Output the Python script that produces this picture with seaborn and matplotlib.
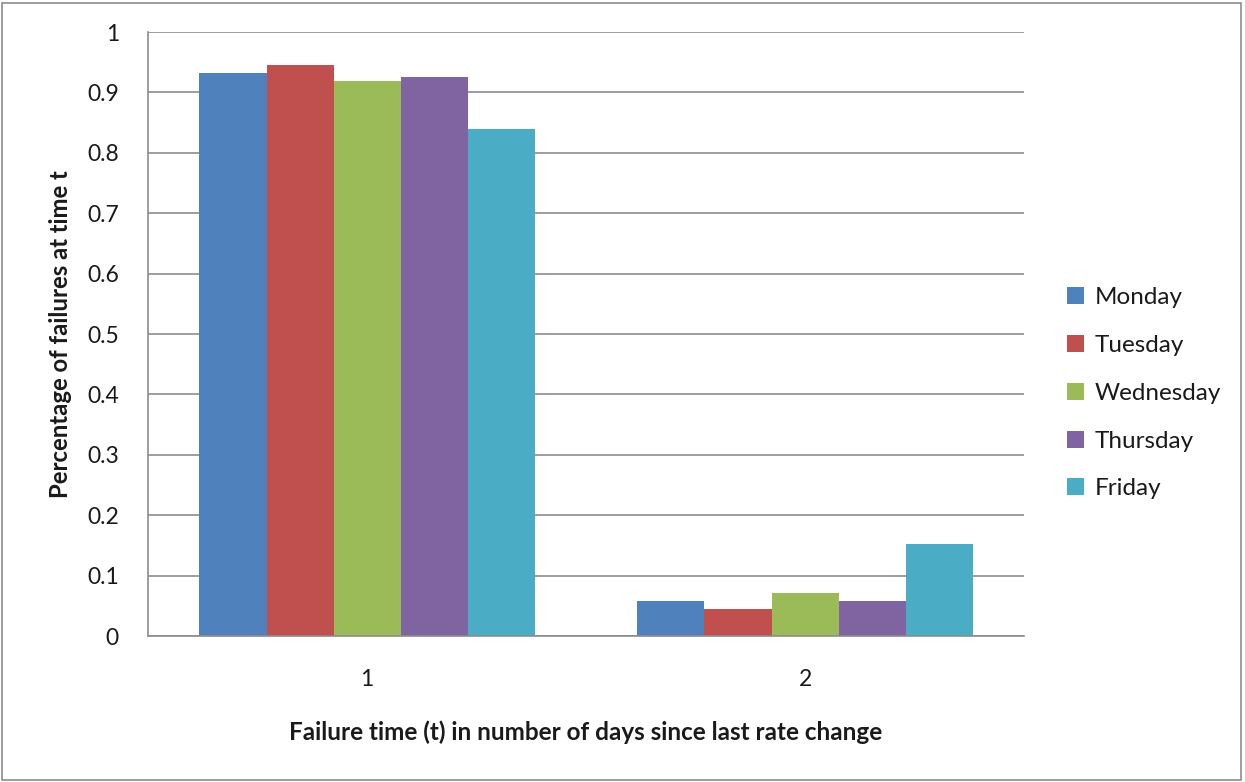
import pandas as pd
import matplotlib.pyplot as plt
import seaborn as sns
from matplotlib.patches import Rectangle

# Data
days = ["Monday", "Tuesday", "Wednesday", "Thursday", "Friday"]
failure_times = ["1", "2"]
t1_share = [0.933, 0.945, 0.919, 0.925, 0.839]
t2_share = [0.058, 0.044, 0.071, 0.058, 0.152]
colors = ["#4F81BD", "#C0504D", "#9BBB59", "#8064A2", "#4BACC6"]

df = pd.DataFrame({
    "t": [failure_times[0]] * len(days) + [failure_times[1]] * len(days),
    "day": days + days,
    "share": t1_share + t2_share,
})

sns.set_style("white")
plt.rcParams["font.family"] = ["Lato", "DejaVu Sans"]
text_color = "#1a1a1a"
line_color = "#8c8c8c"

fig = plt.figure(figsize=(12.45, 7.82), dpi=100)
ax = fig.add_axes([0.1189, 0.1867, 0.7036, 0.7723])

sns.barplot(data=df, x="t", y="share", hue="day", hue_order=days,
            palette=colors, width=0.765, gap=0, saturation=1,
            linewidth=0, ax=ax, legend=True)

ax.set_xlim(-0.5, 1.5)
ax.set_ylim(0, 1)
ax.set_yticks([i / 10 for i in range(11)])
ax.set_yticklabels(["0"] + [f"{i/10:.1f}" for i in range(1, 10)] + ["1"])
ax.yaxis.grid(True, color=line_color, linewidth=1.2)
ax.set_axisbelow(True)

for s in ["top", "right"]:
    ax.spines[s].set_visible(False)
for s in ["left", "bottom"]:
    ax.spines[s].set_color(line_color)
    ax.spines[s].set_linewidth(1.2)

ax.tick_params(axis="y", length=8, width=1.2, color=line_color,
               labelsize=16.5, labelcolor=text_color, pad=13)
ax.tick_params(axis="x", which="major", length=0, labelsize=16.5,
               labelcolor=text_color, pad=24)
ax.set_xticks([-0.5, 0.5, 1.5], minor=True)
ax.tick_params(axis="x", which="minor", length=7, width=1.2, color=line_color)

ax.set_xlabel("Failure time (t) in number of days since last rate change",
              fontsize=17.5, fontweight="bold", color=text_color, labelpad=22)
ax.set_ylabel("Percentage of failures at time t", fontsize=17.2,
              fontweight="bold", color=text_color, labelpad=11)

ax.get_legend().remove()
handles, labels = ax.get_legend_handles_labels()
fig.legend(handles, labels, loc="center left", bbox_to_anchor=(0.8394, 0.497),
           frameon=False, fontsize=17.5, handlelength=0.7, handleheight=0.7,
           handletextpad=0.45, labelspacing=1.1, labelcolor=text_color)

# outer chart border
fig.patches.append(Rectangle((0.002, 0.003), 0.995, 0.993, transform=fig.transFigure,
                             fill=False, edgecolor=line_color, linewidth=1.2))

fig.savefig("out.png", dpi=100)
